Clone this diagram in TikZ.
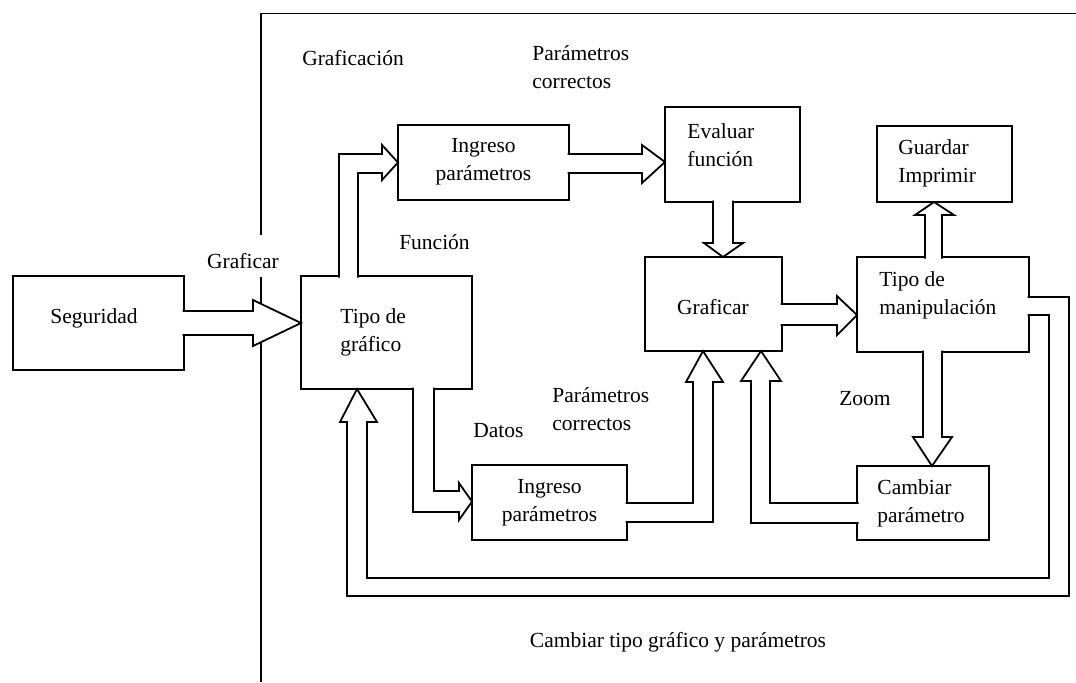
\documentclass[tikz,border=0pt]{standalone}
\usepackage{fontspec}
\setmainfont{Liberation Serif}
\usetikzlibrary{calc}

\tikzset{
  blockbox/.style={draw, line width=0.9pt, rectangle, inner sep=0pt, outer sep=0pt},
  txt/.style={inner sep=0pt, font=\fontsize{10.75pt}{14pt}\selectfont},
  blk/.style={fill=white, draw=black, line width=0.9pt, line join=miter},
  framing/.style={line width=0.9pt}
}

\begin{document}
\begin{tikzpicture}[x=0.5pt, y=-0.5pt]
\useasboundingbox (0,0) rectangle (1076,682);

% outer frame of the graphing module
\draw[framing] (1076,13.5) -- (261,13.5) -- (261,235);
\draw[framing] (261,277) -- (261,682);

% blocks
\node[blockbox, minimum width=171*0.5pt, minimum height=94*0.5pt]  (seg)   at (98.5,323)   {};
\node[blockbox, minimum width=171*0.5pt, minimum height=113*0.5pt] (tipo)  at (386.5,332.5) {};
\node[blockbox, minimum width=171*0.5pt, minimum height=75*0.5pt]  (ing1)  at (483.5,162.5) {};
\node[blockbox, minimum width=135*0.5pt, minimum height=95*0.5pt]  (eval)  at (732.5,154.5) {};
\node[blockbox, minimum width=137*0.5pt, minimum height=94*0.5pt]  (graf)  at (713.5,304)   {};
\node[blockbox, minimum width=172*0.5pt, minimum height=95*0.5pt]  (manip) at (943,304.5)   {};
\node[blockbox, minimum width=135*0.5pt, minimum height=76*0.5pt]  (guard) at (944.5,164)   {};
\node[blockbox, minimum width=132*0.5pt, minimum height=74*0.5pt]  (camb)  at (923,503)     {};
\node[blockbox, minimum width=155*0.5pt, minimum height=75*0.5pt]  (ing2)  at (549.5,502.5) {};

% block texts
\node[txt] (seg-t) at (94,318) {Seguridad};
\node[txt, anchor=west, align=left] (tipo-t) at (340,332) {Tipo de\\gráfico};
\node[txt, align=center] (ing1-t) at (483.5,161.5) {Ingreso\\parámetros};
\node[txt, anchor=west, align=left] (eval-t) at (687,145) {Evaluar\\función};
\node[txt] (graf-t) at (713,307) {Graficar};
\node[txt, anchor=west, align=left] (manip-t) at (879,295) {Tipo de\\manipulación};
\node[txt, anchor=west, align=left] (guard-t) at (898,163.5) {Guardar\\Imprimir};
\node[txt, anchor=west, align=left] (camb-t) at (877,503.5) {Cambiar\\parámetro};
\node[txt, align=center] (ing2-t) at (549.5,503) {Ingreso\\parámetros};

% free labels
\node[txt] (l-graficacion) at (353,58) {Graficación};
\node[txt, anchor=west, align=left] (l-par1) at (532,67.5) {Parámetros\\correctos};
\node[txt] (l-graficar) at (243,261) {Graficar};
\node[txt] (l-funcion) at (434.5,242) {Función};
\node[txt] (l-datos) at (498.5,431) {Datos};
\node[txt, anchor=west, align=left] (l-par2) at (552,409.5) {Parámetros\\correctos};
\node[txt] (l-zoom) at (865,399) {Zoom};
\node[txt] (l-cambiar) at (678,642) {Cambiar tipo gráfico y parámetros};

% block arrows
% Seguridad -> Tipo de grafico
\path[blk] ($(seg.east)+(-1.5,-12)$) -- (253,311) -- (253,300)
  -- ($(tipo.west)+(0,-9.5)$) -- (253,346) -- (253,335) -- ($(seg.east)+(-1.5,12)$);
% Tipo de grafico -> Ingreso parametros (funcion)
\path[blk] ($(tipo.north)+(-47.5,1.5)$) -- (339,154) -- (382,154) -- (382,145)
  -- (ing1.west) -- (382,180) -- (382,173) -- (358,173) -- ($(tipo.north)+(-28.5,1.5)$);
% Ingreso parametros -> Evaluar funcion
\path[blk] ($(ing1.east)+(-1.5,-8.5)$) -- (642,154) -- (642,145)
  -- ($(eval.west)+(0,7.5)$) -- (642,183) -- (642,173) -- ($(ing1.east)+(-1.5,10.5)$);
% Evaluar funcion -> Graficar
\path[blk] ($(eval.south)+(-19.5,-1.5)$) -- (713,243) -- (704,243)
  -- ($(graf.north)+(9.5,0)$) -- (743,243) -- (733,243) -- ($(eval.south)+(0.5,-1.5)$);
% Graficar -> Tipo de manipulacion
\path[blk] ($(graf.east)+(-1.5,0)$) -- (837,304) -- (837,296)
  -- ($(manip.west)+(0,10.5)$) -- (837,335) -- (837,325) -- ($(graf.east)+(-1.5,21)$);
% Tipo de manipulacion -> Guardar / Imprimir
\path[blk] ($(manip.north)+(-18,1.5)$) -- (925,215) -- (915,215)
  -- ($(guard.south)+(-10.5,0)$) -- (954,215) -- (942,215) -- ($(manip.north)+(-1,1.5)$);
% Tipo de manipulacion -> Cambiar parametro (zoom)
\path[blk] ($(manip.south)+(-20,-1.5)$) -- (923,437) -- (913,437)
  -- ($(camb.north)+(9,0)$) -- (952,437) -- (942,437) -- ($(manip.south)+(-1,-1.5)$);
% Cambiar parametro -> Graficar
\path[blk] ($(camb.west)+(1.5,0)$) -- (770,503) -- (770,381) -- (781,381)
  -- ($(graf.south)+(47.5,0)$) -- (741,381) -- (751,381) -- (751,523) -- ($(camb.west)+(1.5,20)$);
% Tipo de grafico -> Ingreso parametros (datos)
\path[blk] ($(tipo.south)+(47.5,-1.5)$) -- (434,491) -- (459,491) -- (459,483)
  -- ($(ing2.west)+(0,-1)$) -- (459,520) -- (459,512) -- (413,512) -- ($(tipo.south)+(26.5,-1.5)$);
% Ingreso parametros -> Graficar
\path[blk] ($(ing2.east)+(-1.5,0.5)$) -- (693,503) -- (693,382) -- (686,382)
  -- ($(graf.south)+(-10.5,0)$) -- (723,382) -- (713,382) -- (713,522) -- ($(ing2.east)+(-1.5,19.5)$);
% Tipo de manipulacion -> Tipo de grafico (cambiar tipo grafico y parametros)
\path[blk] ($(manip.east)+(-1.5,-7.5)$) -- (1069,297) -- (1069,596) -- (347,596) -- (347,422) -- (340,422)
  -- ($(tipo.south)+(-29.5,0)$) -- (377,422) -- (367,422) -- (367,578) -- (1049,578) -- (1049,315)
  -- ($(manip.east)+(-1.5,10.5)$);
\end{tikzpicture}
\end{document}
